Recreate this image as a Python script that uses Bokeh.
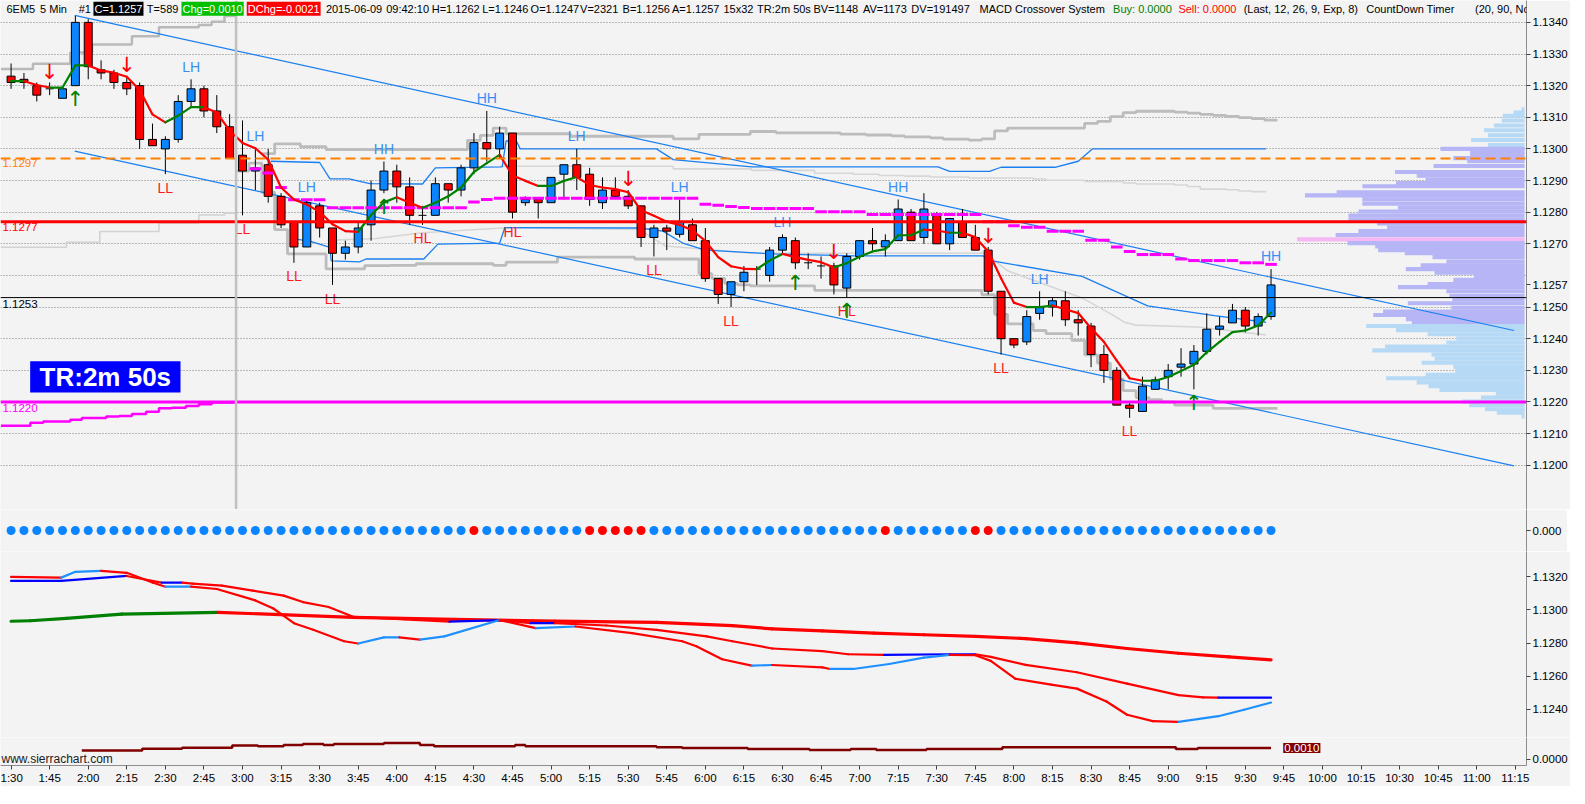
from bokeh.plotting import figure
from bokeh.models import (Range1d, FixedTicker, NumeralTickFormatter, Label, Span,
                          BoxAnnotation)
from bokeh.layouts import column
from bokeh.embed import file_html
from bokeh.resources import INLINE
from bokeh.core.properties import value

# ---------------------------------------------------------------- data
opens = [1.1323,1.1322,1.1320,1.1319,1.1316,1.1320,1.1340,1.1325,1.1324,1.1321,
 1.1320,1.1303,1.1300,1.1303,1.1315,1.1319,1.1312,1.1307,1.1298,1.1293,
 1.1295,1.1285,1.1277,1.1269,1.1282,1.1275,1.1267,1.1269,1.1276,1.1287,
 1.1293,1.1288,1.1279,1.1279,1.1289,1.1287,1.1294,1.1302,1.1300,1.1305,
 1.1283,1.1284,1.1283,1.1292,1.1295,1.1292,1.1283,1.1287,1.1285,1.1282,
 1.1272,1.1275,1.1273,1.1276,1.1271,1.1259,1.1254,1.1258,1.1262,1.1260,
 1.1268,1.1271,1.1264,1.1263,1.1263,1.1256,1.1266,1.1271,1.1269,1.1271,
 1.1280,1.1272,1.1279,1.1270,1.1277,1.1272,1.1268,1.1255,1.1240,1.1239,
 1.1248,1.1250,1.1252,1.1246,1.1244,1.1235,1.1230,1.1219,1.1217,1.1224,
 1.1228,1.1231,1.1232,1.1236,1.1243,1.1245,1.1249,1.1244,1.1247]
highs = [1.1327,1.1324,1.1321,1.1321,1.1319,1.1342,1.1341,1.1328,1.1325,1.1323,
 1.1321,1.1308,1.1304,1.1317,1.1322,1.1320,1.1317,1.1311,1.1309,1.1300,
 1.1300,1.1286,1.1277,1.1284,1.1283,1.1275,1.1271,1.1277,1.1290,1.1296,
 1.1295,1.1291,1.1282,1.1291,1.1289,1.1295,1.1305,1.1312,1.1307,1.1305,
 1.1285,1.1284,1.1291,1.1295,1.1300,1.1294,1.1291,1.1291,1.1287,1.1282,
 1.1276,1.1276,1.1284,1.1278,1.1275,1.1259,1.1258,1.1263,1.1263,1.1269,
 1.1273,1.1272,1.1267,1.1266,1.1264,1.1267,1.1271,1.1275,1.1273,1.1284,
 1.1281,1.1286,1.1280,1.1278,1.1281,1.1276,1.1269,1.1255,1.1240,1.1249,
 1.1255,1.1253,1.1255,1.1249,1.1245,1.1238,1.1231,1.1220,1.1228,1.1228,
 1.1232,1.1237,1.1238,1.1248,1.1247,1.1251,1.1250,1.1248,1.1262]
lows = [1.1319,1.1319,1.1315,1.1317,1.1316,1.1320,1.1322,1.1322,1.1319,1.1317,
 1.1300,1.1301,1.1292,1.1302,1.1313,1.1310,1.1305,1.1297,1.1279,1.1287,
 1.1283,1.1275,1.1264,1.1269,1.1272,1.1257,1.1265,1.1267,1.1271,1.1286,
 1.1283,1.1276,1.1276,1.1279,1.1283,1.1285,1.1292,1.1296,1.1297,1.1278,
 1.1282,1.1278,1.1283,1.1284,1.1287,1.1282,1.1281,1.1285,1.1281,1.1269,
 1.1266,1.1268,1.1272,1.1271,1.1258,1.1251,1.1250,1.1255,1.1257,1.1258,
 1.1267,1.1262,1.1262,1.1259,1.1254,1.1253,1.1265,1.1268,1.1266,1.1271,
 1.1271,1.1270,1.1270,1.1268,1.1272,1.1268,1.1254,1.1235,1.1237,1.1238,
 1.1246,1.1247,1.1244,1.1241,1.1231,1.1226,1.1219,1.1215,1.1217,1.1224,
 1.1224,1.1228,1.1224,1.1235,1.1241,1.1245,1.1242,1.1241,1.1246]
closes = [1.1321,1.1321,1.1317,1.1319,1.1319,1.1340,1.1326,1.1324,1.1321,1.1319,
 1.1303,1.1301,1.1303,1.1315,1.1319,1.1312,1.1307,1.1297,1.1293,1.1294,
 1.1285,1.1276,1.1269,1.1283,1.1275,1.1267,1.1269,1.1275,1.1287,1.1293,
 1.1288,1.1279,1.1279,1.1289,1.1287,1.1294,1.1302,1.1300,1.1305,1.1280,
 1.1284,1.1283,1.1291,1.1295,1.1291,1.1284,1.1287,1.1285,1.1282,1.1272,
 1.1275,1.1274,1.1277,1.1271,1.1259,1.1254,1.1258,1.1261,1.1262,1.1268,
 1.1272,1.1264,1.1264,1.1263,1.1257,1.1266,1.1271,1.1270,1.1271,1.1281,
 1.1271,1.1281,1.1270,1.1278,1.1272,1.1268,1.1255,1.1240,1.1238,1.1247,
 1.1250,1.1252,1.1246,1.1245,1.1235,1.1230,1.1219,1.1218,1.1225,1.1227,
 1.1230,1.1232,1.1236,1.1243,1.1244,1.1249,1.1244,1.1247,1.1257]

# price moving average (red falling / green rising)
ma_fast = [1.13214,1.13214,1.13202,1.13194,1.13194,1.13264,1.13264,1.13248,1.13241,1.13228,
 1.13186,1.13109,1.13084,1.13105,1.13132,1.13132,1.13115,1.13058,1.13019,1.13002,
 1.12966,1.12878,1.12840,1.12824,1.12801,1.12762,1.12740,1.12738,1.12791,1.12831,
 1.12847,1.12830,1.12814,1.12830,1.12850,1.12878,1.12927,1.12955,1.12981,1.12916,
 1.12899,1.12883,1.12883,1.12899,1.12911,1.12886,1.12878,1.12873,1.12863,1.12806,
 1.12789,1.12770,1.12760,1.12742,1.12709,1.12658,1.12629,1.12621,1.12620,1.12647,
 1.12668,1.12658,1.12649,1.12642,1.12625,1.12639,1.12659,1.12676,1.12683,1.12727,
 1.12727,1.12745,1.12742,1.12735,1.12735,1.12721,1.12676,1.12591,1.12514,1.12500,
 1.12500,1.12505,1.12493,1.12481,1.12433,1.12390,1.12331,1.12275,1.12267,1.12267,
 1.12279,1.12298,1.12318,1.12357,1.12390,1.12421,1.12426,1.12442,1.12483]

# session VWAP (magenta dashes), bars 19..98
vwap_first_bar = 19
vwap = [1.12937,1.12924,1.12878,1.12839,1.12839,1.12839,
 1.12814,1.12814,1.12814,1.12814,1.12814,1.12814,1.12814,1.12814,1.12814,1.12814,1.12814,
 1.12832,1.12840,
 1.12844,1.12844,1.12844,1.12844,1.12844,1.12844,1.12844,1.12844,
 1.12844,1.12844,1.12844,1.12844,1.12844,1.12844,1.12844,1.12844,
 1.12825,1.12822,1.12818,1.12815,
 1.12812,1.12812,1.12812,1.12812,1.12812,
 1.12801,1.12801,1.12801,1.12801,
 1.12793,1.12793,1.12793,1.12793,1.12793,1.12793,1.12793,1.12793,1.12793,
 1.12770,1.12770,1.12757,1.12752,1.12752,1.12740,1.12740,1.12740,1.12711,1.12711,
 1.12690,1.12676,1.12666,1.12666,1.12666,1.12652,1.12647,1.12647,1.12647,1.12647,
 1.12640,1.12640,1.12635]

# previous-session vwap ramp (magenta, before 3:00)
ramp_x = [-0.8, 1.5, 2.5, 4.6, 5.5, 7.4, 8.4, 9.4, 10.5, 11.5, 12.5, 13.6, 14.6, 15.6, 17.5]
ramp_y = [1.12125, 1.12134, 1.12138, 1.12144, 1.12149, 1.12154, 1.12156, 1.12162,
          1.12169, 1.12180, 1.12182, 1.12187, 1.12193, 1.12198, 1.12198]

# grey bands (previous session)
gpre_up_x = [-0.8, 1.7, 4.6, 6.3, 9.4, 11.5, 14.6, 15.6, 16.6, 17.5]
gpre_up_y = [1.13253, 1.13269, 1.13305, 1.13330, 1.13356, 1.13385, 1.13392, 1.13402, 1.13420, 1.13420]
gpre_lo_x = [-0.8, 4.3, 6.9, 11.5, 14.6, 16.6, 17.5]
gpre_lo_y = [1.12689, 1.12705, 1.12739, 1.12766, 1.12791, 1.12797, 1.12797]

# grey bands (current session)
gup_x = [19.5, 20.5, 22.5, 24.5, 35.5, 36.5, 37.5, 38.5, 43.5, 51.5, 53.5, 57.5, 59.5, 64.5,
         66.5, 68.5, 69.5, 71.5, 72.5, 74.5, 75.5, 76.5, 77.5, 83.5, 84.5, 85.5, 86.5, 87.5,
         90.5, 91.5, 92.5, 93.5, 94.5, 95.5, 96.5, 97.5, 98.5]
gup_y = [1.12985, 1.13016, 1.13007, 1.12998, 1.13027, 1.13043, 1.13066, 1.13048, 1.13040,
         1.13032, 1.13046, 1.13055, 1.13051, 1.13047, 1.13044, 1.13041, 1.13038, 1.13035,
         1.13031, 1.13028, 1.13032, 1.13057, 1.13066, 1.13081, 1.13087, 1.13102, 1.13115,
         1.13119, 1.13116, 1.13113, 1.13109, 1.13106, 1.13103, 1.13099, 1.13096, 1.13091, 1.13091]
glo_x = [17.5, 18.5, 19.5, 20.5, 21.5, 24.5, 27.5, 29.5, 31.5, 37.5, 38.5, 42.5, 48.5, 53.5,
         54.5, 55.5, 56.5, 57.5, 62.5, 75.5, 76.5, 77.5, 79.5, 80.5, 82.5, 83.5, 84.5, 85.5,
         86.5, 87.5, 88.5, 89.5, 90.5, 93.5, 98.5]
glo_y = [1.12930, 1.12955, 1.12863, 1.12745, 1.12668, 1.12621, 1.12631, 1.12632, 1.12637,
         1.12632, 1.12642, 1.12658, 1.12652, 1.12606, 1.12591, 1.12575, 1.12570, 1.12567,
         1.12553, 1.12539, 1.12477, 1.12447, 1.12426, 1.12416, 1.12395, 1.12349, 1.12323,
         1.12272, 1.12236, 1.12214, 1.12207, 1.12200, 1.12190, 1.12180, 1.12180]
ltu_x = [38.0, 50.2, 51.5, 57.6, 62.5, 65.5, 67.5, 69.5, 71.5, 74.5, 79.5, 80.5, 83.5, 86.5,
         87.5, 90.5, 91.5, 92.5, 94.5, 95.5, 96.5, 97.6]
ltu_y = [1.12945, 1.12945, 1.12937, 1.12932, 1.12923, 1.12920, 1.12916, 1.12914, 1.12911,
         1.12908, 1.12905, 1.12901, 1.12897, 1.12892, 1.12889, 1.12886, 1.12881, 1.12873,
         1.12871, 1.12867, 1.12865, 1.12863]
ltl_x = [24.6, 28.4, 32.0, 38.2, 48.9, 50.9, 54.0, 57.6, 76.1, 76.5, 77.5, 83.3, 85.6, 86.6,
         87.5, 92.3, 97.6]
ltl_y = [1.12711, 1.12717, 1.12735, 1.12750, 1.12745, 1.12693, 1.12683, 1.12670, 1.12670,
         1.12646, 1.12615, 1.12529, 1.12477, 1.12452, 1.12443, 1.12437, 1.12412]

# blue bands
bu_x = [20.2, 24.0, 24.8, 26.3, 27.9, 32.0, 33.0, 38.2, 38.5, 39.3, 39.6, 50.2, 51.5, 57.6,
        72.1, 73.0, 76.1, 77.0, 81.2, 83.0, 84.1, 97.6]
bu_y = [1.12961, 1.12957, 1.12905, 1.12905, 1.12890, 1.12889, 1.12940, 1.12943, 1.13025,
        1.13025, 1.13000, 1.13000, 1.12966, 1.12943, 1.12943, 1.12929, 1.12929, 1.12942,
        1.12942, 1.12961, 1.13000, 1.13000]
bl_x = [22.3, 23.3, 24.8, 24.9, 27.1, 27.6, 32.1, 33.2, 38.0, 38.4, 48.9, 50.7, 52.3, 54.0,
        59.2, 65.6, 75.6, 76.3, 83.3, 88.4, 93.6, 97.6]
bl_y = [1.12714, 1.12708, 1.12689, 1.12646, 1.12643, 1.12652, 1.12652, 1.12699, 1.12702,
        1.12751, 1.12750, 1.12740, 1.12701, 1.12680, 1.12668, 1.12662, 1.12662, 1.12646,
        1.12597, 1.12504, 1.12473, 1.12452]

# trend channel
chan_x = [4.95, 116.9]
chan_up = [1.13422, 1.12426]
chan_lo = [1.12993, 1.11998]

# horizontal levels
level_prices = [1.1297, 1.1277, 1.1253, 1.1220]
session_break_bar = 17.5

# swing labels
swing_up_bars = [14, 19, 23, 29, 37, 44, 52, 60, 69, 80, 98]
swing_up_text = ["LH", "LH", "LH", "HH", "HH", "LH", "LH", "LH", "HH", "LH", "HH"]
swing_dn_bars = [12, 18, 22, 25, 32, 39, 50, 56, 65, 77, 87]
swing_dn_text = ["LL", "LL", "LL", "LL", "HL", "HL", "LL", "LL", "HL", "LL", "LL"]
sell_arrow_bars = [3, 9, 48, 64, 76]
buy_arrow_bars = [5, 29, 61, 65, 92]

# volume profile
prof_price = [1.13125, 1.13115, 1.13105, 1.13090, 1.13074, 1.13059, 1.13043, 1.13028, 1.13012,
 1.13000, 1.12992, 1.12981, 1.12971, 1.12961, 1.12946, 1.12927, 1.12915, 1.12902, 1.12892,
 1.12882, 1.12863, 1.12853, 1.12841, 1.12827, 1.12814, 1.12802, 1.12789, 1.12776, 1.12764,
 1.12752, 1.12740, 1.12728, 1.12714, 1.12702, 1.12692, 1.12680, 1.12670, 1.12658, 1.12644,
 1.12632, 1.12620, 1.12609, 1.12598, 1.12586, 1.12573, 1.12563, 1.12550, 1.12536, 1.12524,
 1.12512, 1.12498, 1.12486, 1.12475, 1.12462, 1.12452,
 1.12440, 1.12427, 1.12414, 1.12401, 1.12388, 1.12375, 1.12363, 1.12350, 1.12337, 1.12324,
 1.12311, 1.12298, 1.12286, 1.12275, 1.12262, 1.12250, 1.12238, 1.12226, 1.12214, 1.12201,
 1.12190, 1.12177, 1.12166, 1.12154]
prof_vol = [3, 11, 22, 23, 31, 41, 37, 54, 37,
 85, 55, 55, 72, 58, 92, 131, 109, 100, 130,
 164, 190, 222, 164, 164, 128, 168, 178, 178, 149,
 139, 168, 191, 230, 179, 151, 148, 121, 93, 79,
 105, 120, 91, 51, 72, 98, 128, 79, 76, 73,
 118, 74, 143, 153, 120, 114,
 160, 130, 98, 69, 79, 141, 154, 94, 91, 104,
 72, 70, 100, 140, 109, 97, 86, 29, 44, 63,
 56, 40, 28, 3]
value_area = [1.12447, 1.13007]

# MACD crossover dots (red = sell state)
dot_red_bars = [36, 45, 46, 47, 48, 49, 68, 75, 76]

# lower panel moving averages (bar, value)
slow_x = [0, 1.5, 4.3, 8.6, 16.1, 26.6, 34.5, 42.3, 50.2, 56.1, 59.2, 63.1, 67.1, 71, 75,
          78.9, 82.9, 86.8, 90.8, 94.7, 98]
slow_y = [1.12932, 1.12935, 1.12949, 1.12975, 1.12986, 1.12955, 1.12943, 1.12933, 1.12925,
          1.12905, 1.12886, 1.12874, 1.12860, 1.12850, 1.12840, 1.12827, 1.12801, 1.12767,
          1.12738, 1.12716, 1.12698]
fast_x = [0, 3.9, 5, 7, 9, 11, 12, 14, 16, 19, 20.4, 22, 23.5, 25.9, 27, 29, 30.2, 31.8, 33.7,
          38, 40.8, 43.9, 48.3, 52.2, 53.3, 55.3, 57.6, 59.2, 63.1, 63.7, 65.5, 68.3, 71, 73,
          75, 76.2, 78.1, 80.9, 82.9, 85.2, 86.8, 88.8, 90.8, 93.9, 95.9, 98]
fast_y = [1.13200, 1.13196, 1.13231, 1.13237, 1.13225, 1.13166, 1.13141, 1.13141, 1.13127,
          1.13058, 1.13009, 1.12920, 1.12880, 1.12811, 1.12797, 1.12834, 1.12834, 1.12821,
          1.12840, 1.12939, 1.12890, 1.12900, 1.12860, 1.12811, 1.12781, 1.12702, 1.12663,
          1.12667, 1.12653, 1.12643, 1.12643, 1.12673, 1.12712, 1.12728, 1.12726, 1.12692,
          1.12584, 1.12548, 1.12524, 1.12446, 1.12366, 1.12327, 1.12323, 1.12357, 1.12396,
          1.12440]
mid_x = [0, 3.9, 9, 11.7, 13.3, 14.1, 16.4, 18.8, 21.2, 22.7, 24.7, 26.6, 30.6, 34.1, 38,
         40.4, 42.3, 46.3, 50.2, 54.1, 56.1, 59.2, 63.1, 65.1, 67.9, 73, 75, 76.2, 78.9, 82.9,
         86.8, 90.8, 92.7, 93.9, 98]
mid_y = [1.13176, 1.13176, 1.13206, 1.13166, 1.13166, 1.13160, 1.13147, 1.13117, 1.13087,
         1.13048, 1.13018, 1.12959, 1.12943, 1.12929, 1.12939, 1.12920, 1.12920, 1.12906,
         1.12880, 1.12840, 1.12811, 1.12767, 1.12751, 1.12732, 1.12728, 1.12732, 1.12732,
         1.12716, 1.12668, 1.12623, 1.12554, 1.12485, 1.12471, 1.12469, 1.12469]

# bottom study (dark red step line)
dr_x = [5.5, 10.2, 13.3, 17.2, 19.2, 21.2, 22.7, 24.3, 25.1, 29, 31.8, 32.9, 39.2, 40, 50.2,
        52.2, 57.3, 62.1, 65.3, 67.3, 71.2, 77.1, 90.6, 92.3, 98]
dr_y = [0.00078, 0.00092, 0.00100, 0.00120, 0.00114, 0.00125, 0.00133, 0.00125, 0.00133,
        0.00142, 0.00125, 0.00114, 0.00125, 0.00114, 0.00106, 0.00098, 0.00089, 0.00081,
        0.00089, 0.00081, 0.00089, 0.00106, 0.00089, 0.00098, 0.00098]

price_ticks = [1.1200, 1.1210, 1.1220, 1.1230, 1.1240, 1.1250, 1.1260, 1.1270, 1.1280,
               1.1290, 1.1300, 1.1310, 1.1320, 1.1330, 1.1340]
ma_ticks = [1.1240, 1.1260, 1.1280, 1.1300, 1.1320]
time_labels = ["1:30", "1:45", "2:00", "2:15", "2:30", "2:45", "3:00", "3:15", "3:30", "3:45",
               "4:00", "4:15", "4:30", "4:45", "5:00", "5:15", "5:30", "5:45", "6:00", "6:15",
               "6:30", "6:45", "7:00", "7:15", "7:30", "7:45", "8:00", "8:15", "8:30", "8:45",
               "9:00", "9:15", "9:30", "9:45", "10:00", "10:15", "10:30", "10:45", "11:00", "11:15"]
time_ticks = [3 * k for k in range(len(time_labels))]

# ---------------------------------------------------------------- helpers
BAR_PX = 13.0
PRICE_PX = 1.0 / 32440.0
def bx(px): return (px - 10.7) / BAR_PX
def py(y): return 1.1300 + (152.2 - y) * PRICE_PX
def vy(y): return 1.1320 - (y - 591.0) / 16875.0
def dy(y): return (777.7 - y) / 12000.0

SANS = "Liberation Sans"
BG = "#f3f3f3"
BLUE = "#0a84ff"
RED = "#ff0000"
FW = 1526
n = len(closes)
bars = list(range(n))
xr = Range1d(bx(0), bx(1543))


def make_fig(fh, yr, with_x=False):
    p = figure(frame_width=FW, frame_height=fh, x_range=xr, y_range=yr,
               output_backend="svg", toolbar_location=None,
               x_axis_location=("below" if with_x else None), y_axis_location="right",
               min_border_left=0, min_border_right=41, min_border_top=0, min_border_bottom=0)
    p.background_fill_color = BG
    p.border_fill_color = BG
    p.outline_line_color = None
    p.grid.visible = False
    ax = p.yaxis[0]
    ax.axis_line_color = "#8c8c8c"
    ax.major_tick_line_color = "#404040"
    ax.major_tick_out = 4
    ax.major_tick_in = 0
    ax.minor_tick_line_color = None
    ax.major_label_standoff = 2
    ax.major_label_text_font = SANS
    ax.major_label_text_font_size = "11.5px"
    ax.major_label_text_color = "#000000"
    return p


def colored(p, xs, ys, up, down, width):
    cols = [up if b >= a else down for a, b in zip(ys[:-1], ys[1:])]
    p.segment(x0=xs[:-1], y0=ys[:-1], x1=xs[1:], y1=ys[1:], line_color=cols,
              line_width=width, line_cap="round")


# ---------------------------------------------------------------- main price panel
pm = make_fig(509, Range1d(py(522), py(0)))
# axis shows the current price in place of the hidden 1.1260 label
axis_ticks = [t for t in price_ticks if abs(t - 1.1260) > 1e-9] + [closes[-1]]
pm.yaxis.ticker = FixedTicker(ticks=axis_ticks)
pm.yaxis.formatter = NumeralTickFormatter(format="0.0000")
pm.ygrid.visible = True
pm.ygrid.ticker = FixedTicker(ticks=price_ticks)
pm.ygrid.grid_line_color = "#7a7a7a"
pm.ygrid.grid_line_dash = "1 2"

# volume profile
x_end = bx(1541)
poc = prof_vol.index(max(prof_vol))
prof_cols = []
for k, (pr, v) in enumerate(zip(prof_price, prof_vol)):
    if k == poc:
        prof_cols.append("#f4b8f2")
    elif value_area[0] <= pr <= value_area[1]:
        prof_cols.append("#b6b6f6")
    else:
        prof_cols.append("#b6d9f6")
pm.hbar(y=prof_price, left=[x_end - v / BAR_PX for v in prof_vol], right=x_end,
        height=0.00013, fill_color=prof_cols, line_color=None)

# bands
pm.step(gpre_up_x, gpre_up_y, mode="after", line_color="#b9b9b9", line_width=2.5)
pm.step(gpre_lo_x, gpre_lo_y, mode="after", line_color="#d2d2d2", line_width=1.6)
pm.step(ltu_x, ltu_y, mode="after", line_color="#d6d6d6", line_width=1.6)
pm.line(ltl_x, ltl_y, line_color="#d6d6d6", line_width=1.6)
pm.step(gup_x, gup_y, mode="after", line_color="#bcbcbc", line_width=2.8)
pm.step(glo_x, glo_y, mode="after", line_color="#bcbcbc", line_width=2.8)
pm.line(bu_x, bu_y, line_color="#1a7ff0", line_width=1.3)
pm.line(bl_x, bl_y, line_color="#1a7ff0", line_width=1.3)
pm.line(chan_x, chan_up, line_color="#1a7ff0", line_width=1.2)
pm.line(chan_x, chan_lo, line_color="#1a7ff0", line_width=1.2)
pm.step(ramp_x, ramp_y, mode="after", line_color="#ff00ff", line_width=2.5)

# candles
pm.segment(x0=bars, y0=highs, x1=bars, y1=lows, line_color="black", line_width=1)
inc = [i for i in bars if closes[i] > opens[i]]
dec = [i for i in bars if closes[i] < opens[i]]
doj = [i for i in bars if closes[i] == opens[i]]
pm.vbar(x=inc, bottom=[opens[i] for i in inc], top=[closes[i] for i in inc], width=0.62,
        fill_color=BLUE, line_color="black", line_width=1)
pm.vbar(x=dec, bottom=[closes[i] for i in dec], top=[opens[i] for i in dec], width=0.62,
        fill_color=RED, line_color="black", line_width=1)
pm.segment(x0=[i - 0.31 for i in doj], y0=[opens[i] for i in doj],
           x1=[i + 0.31 for i in doj], y1=[opens[i] for i in doj], line_color="black", line_width=1)

# vwap dashes
vb = [vwap_first_bar + k for k in range(len(vwap))]
pm.segment(x0=[b - 0.45 for b in vb], y0=vwap, x1=[b + 0.45 for b in vb], y1=vwap,
           line_color="#ff00ff", line_width=3)

# fast MA
colored(pm, bars, ma_fast, "#008000", "#ff0000", 2.2)

# swing labels and arrows
pm.text(x=swing_up_bars, y=[highs[b] + 13 * PRICE_PX for b in swing_up_bars], text=swing_up_text,
        text_font=value(SANS), text_font_size="14px", text_color="#3a8ff2",
        text_align="center", text_baseline="middle")
pm.text(x=swing_dn_bars, y=[lows[b] - 14 * PRICE_PX for b in swing_dn_bars], text=swing_dn_text,
        text_font=value(SANS), text_font_size="14px", text_color="#ff1a1a",
        text_align="center", text_baseline="middle")
pm.text(x=sell_arrow_bars, y=[highs[b] + 11 * PRICE_PX for b in sell_arrow_bars],
        text=["\u2193"] * len(sell_arrow_bars), text_font=value("DejaVu Sans"),
        text_font_size="21px", text_color="#ff0000", text_align="center", text_baseline="middle")
pm.text(x=buy_arrow_bars, y=[lows[b] - 14 * PRICE_PX for b in buy_arrow_bars],
        text=["\u2191"] * len(buy_arrow_bars), text_font=value("DejaVu Sans"),
        text_font_size="21px", text_color="#008000", text_align="center", text_baseline="middle")

# levels
level_styles = [("#ff8000", 2, "10 5", 163), ("#ff0000", 3, "solid", 228),
                ("#000000", 1, "solid", 307), ("#ff00ff", 3, "solid", 414)]
for lv, (col, w, dash, ty) in zip(level_prices, level_styles):
    pm.add_layout(Span(location=lv, dimension="width", line_color=col, line_width=w,
                       line_dash=dash))
    pm.add_layout(Label(x=bx(2), y=py(ty), text=f"{lv:.4f}", text_color=col,
                        text_font=SANS, text_font_size="11.5px", text_baseline="top",
                        text_align="left"))
pm.add_layout(Span(location=session_break_bar, dimension="height", line_color="#c0c0c0",
                   line_width=2.5))

# countdown box
pm.add_layout(BoxAnnotation(left=bx(30), right=bx(182), top=py(370), bottom=py(402),
                            fill_color="#0000ff", fill_alpha=1.0, line_color=None))
pm.add_layout(Label(x=bx(106), y=py(386.5), text="TR:2m 50s", text_color="white",
                    text_font=SANS, text_font_style="bold", text_font_size="26px",
                    text_align="center", text_baseline="middle"))

# header line
header = [("6EM5", 6, "black", None), ("5 Min", 40, "black", None), ("#1", 79, "black", None),
          ("C=1.1257", 94, "white", "black"), ("T=589", 148, "black", None),
          ("Chg=0.0010", 183, "white", "#00c000"), ("DChg=-0.0021", 249, "white", "#ff0000"),
          ("2015-06-09", 329, "black", None), ("09:42:10", 390, "black", None),
          ("H=1.1262", 436, "black", None), ("L=1.1246", 487, "black", None),
          ("O=1.1247", 536, "black", None), ("V=2321", 586, "black", None),
          ("B=1.1256", 629, "black", None), ("A=1.1257", 679, "black", None),
          ("15x32", 731, "black", None), ("TR:2m 50s", 765, "black", None),
          ("BV=1148", 822, "black", None), ("AV=1173", 872, "black", None),
          ("DV=191497", 921, "black", None), ("MACD Crossover System", 990, "black", None),
          ("Buy: 0.0000", 1125, "#008000", None), ("Sell: 0.0000", 1191, "#ff0000", None),
          ("(Last, 12, 26, 9, Exp, 8)", 1257, "black", None),
          ("CountDown Timer", 1381, "black", None), ("(20, 90, No,", 1491, "black", None)]
for txt, xpx, col, bg in header:
    kw = dict(background_fill_color=bg, padding=1) if bg else {}
    pm.add_layout(Label(x=bx(xpx), y=py(8.5), text=txt, text_color=col, text_font=SANS,
                        text_font_size="11px", text_align="left", text_baseline="middle", **kw))

# ---------------------------------------------------------------- dots panel
pdots = make_fig(42, Range1d(-1, 1))
pdots.yaxis.ticker = FixedTicker(ticks=[0])
pdots.yaxis.formatter = NumeralTickFormatter(format="0.000")
dot_cols = ["#ff0000" if b in dot_red_bars else "#0a84ff" for b in bars]
pdots.scatter(x=bars, y=[0] * n, size=9, fill_color=dot_cols, line_color=None)

# ---------------------------------------------------------------- MA panel
pma = make_fig(186, Range1d(vy(755), vy(565)))
pma.yaxis.ticker = FixedTicker(ticks=ma_ticks)
pma.yaxis.formatter = NumeralTickFormatter(format="0.0000")
colored(pma, slow_x, slow_y, "#008000", "#ff0000", 3.2)
colored(pma, mid_x, mid_y, "#0000ff", "#ff0000", 2.2)
colored(pma, fast_x, fast_y, "#1e90ff", "#ff0000", 2.2)

# ---------------------------------------------------------------- bottom study + time axis
pdr = make_fig(28, Range1d(dy(784), dy(755)), with_x=True)
pdr.yaxis.ticker = FixedTicker(ticks=[0.0])
pdr.yaxis.formatter = NumeralTickFormatter(format="0.0000")
pdr.step(dr_x, dr_y, mode="after", line_color="#800000", line_width=2.5)
pdr.add_layout(Label(x=bx(1297), y=dr_y[-1], text=f"{dr_y[-1]:.4f}", text_color="white",
                     background_fill_color="#800000", text_font=SANS, text_font_size="11.5px",
                     text_align="left", text_baseline="middle", padding=1))
pdr.add_layout(Label(x=bx(1), y=dy(777), text="www.sierrachart.com", text_color="#202020",
                     text_font=SANS, text_font_size="12px", text_align="left",
                     text_baseline="middle"))
xa = pdr.xaxis[0]
xa.ticker = FixedTicker(ticks=time_ticks)
xa.major_label_overrides = {t: lbl for t, lbl in zip(time_ticks, time_labels)}
xa.axis_line_color = "#8c8c8c"
xa.major_tick_line_color = "#404040"
xa.major_tick_out = 4
xa.major_tick_in = 0
xa.minor_tick_line_color = None
xa.major_label_standoff = 2
xa.major_label_text_font = SANS
xa.major_label_text_font_size = "11.5px"
xa.major_label_text_color = "#000000"

layout = column(pm, pdots, pma, pdr, spacing=0)
open("out.html", "w").write(file_html(layout, INLINE, "6EM5 5 Min"))
